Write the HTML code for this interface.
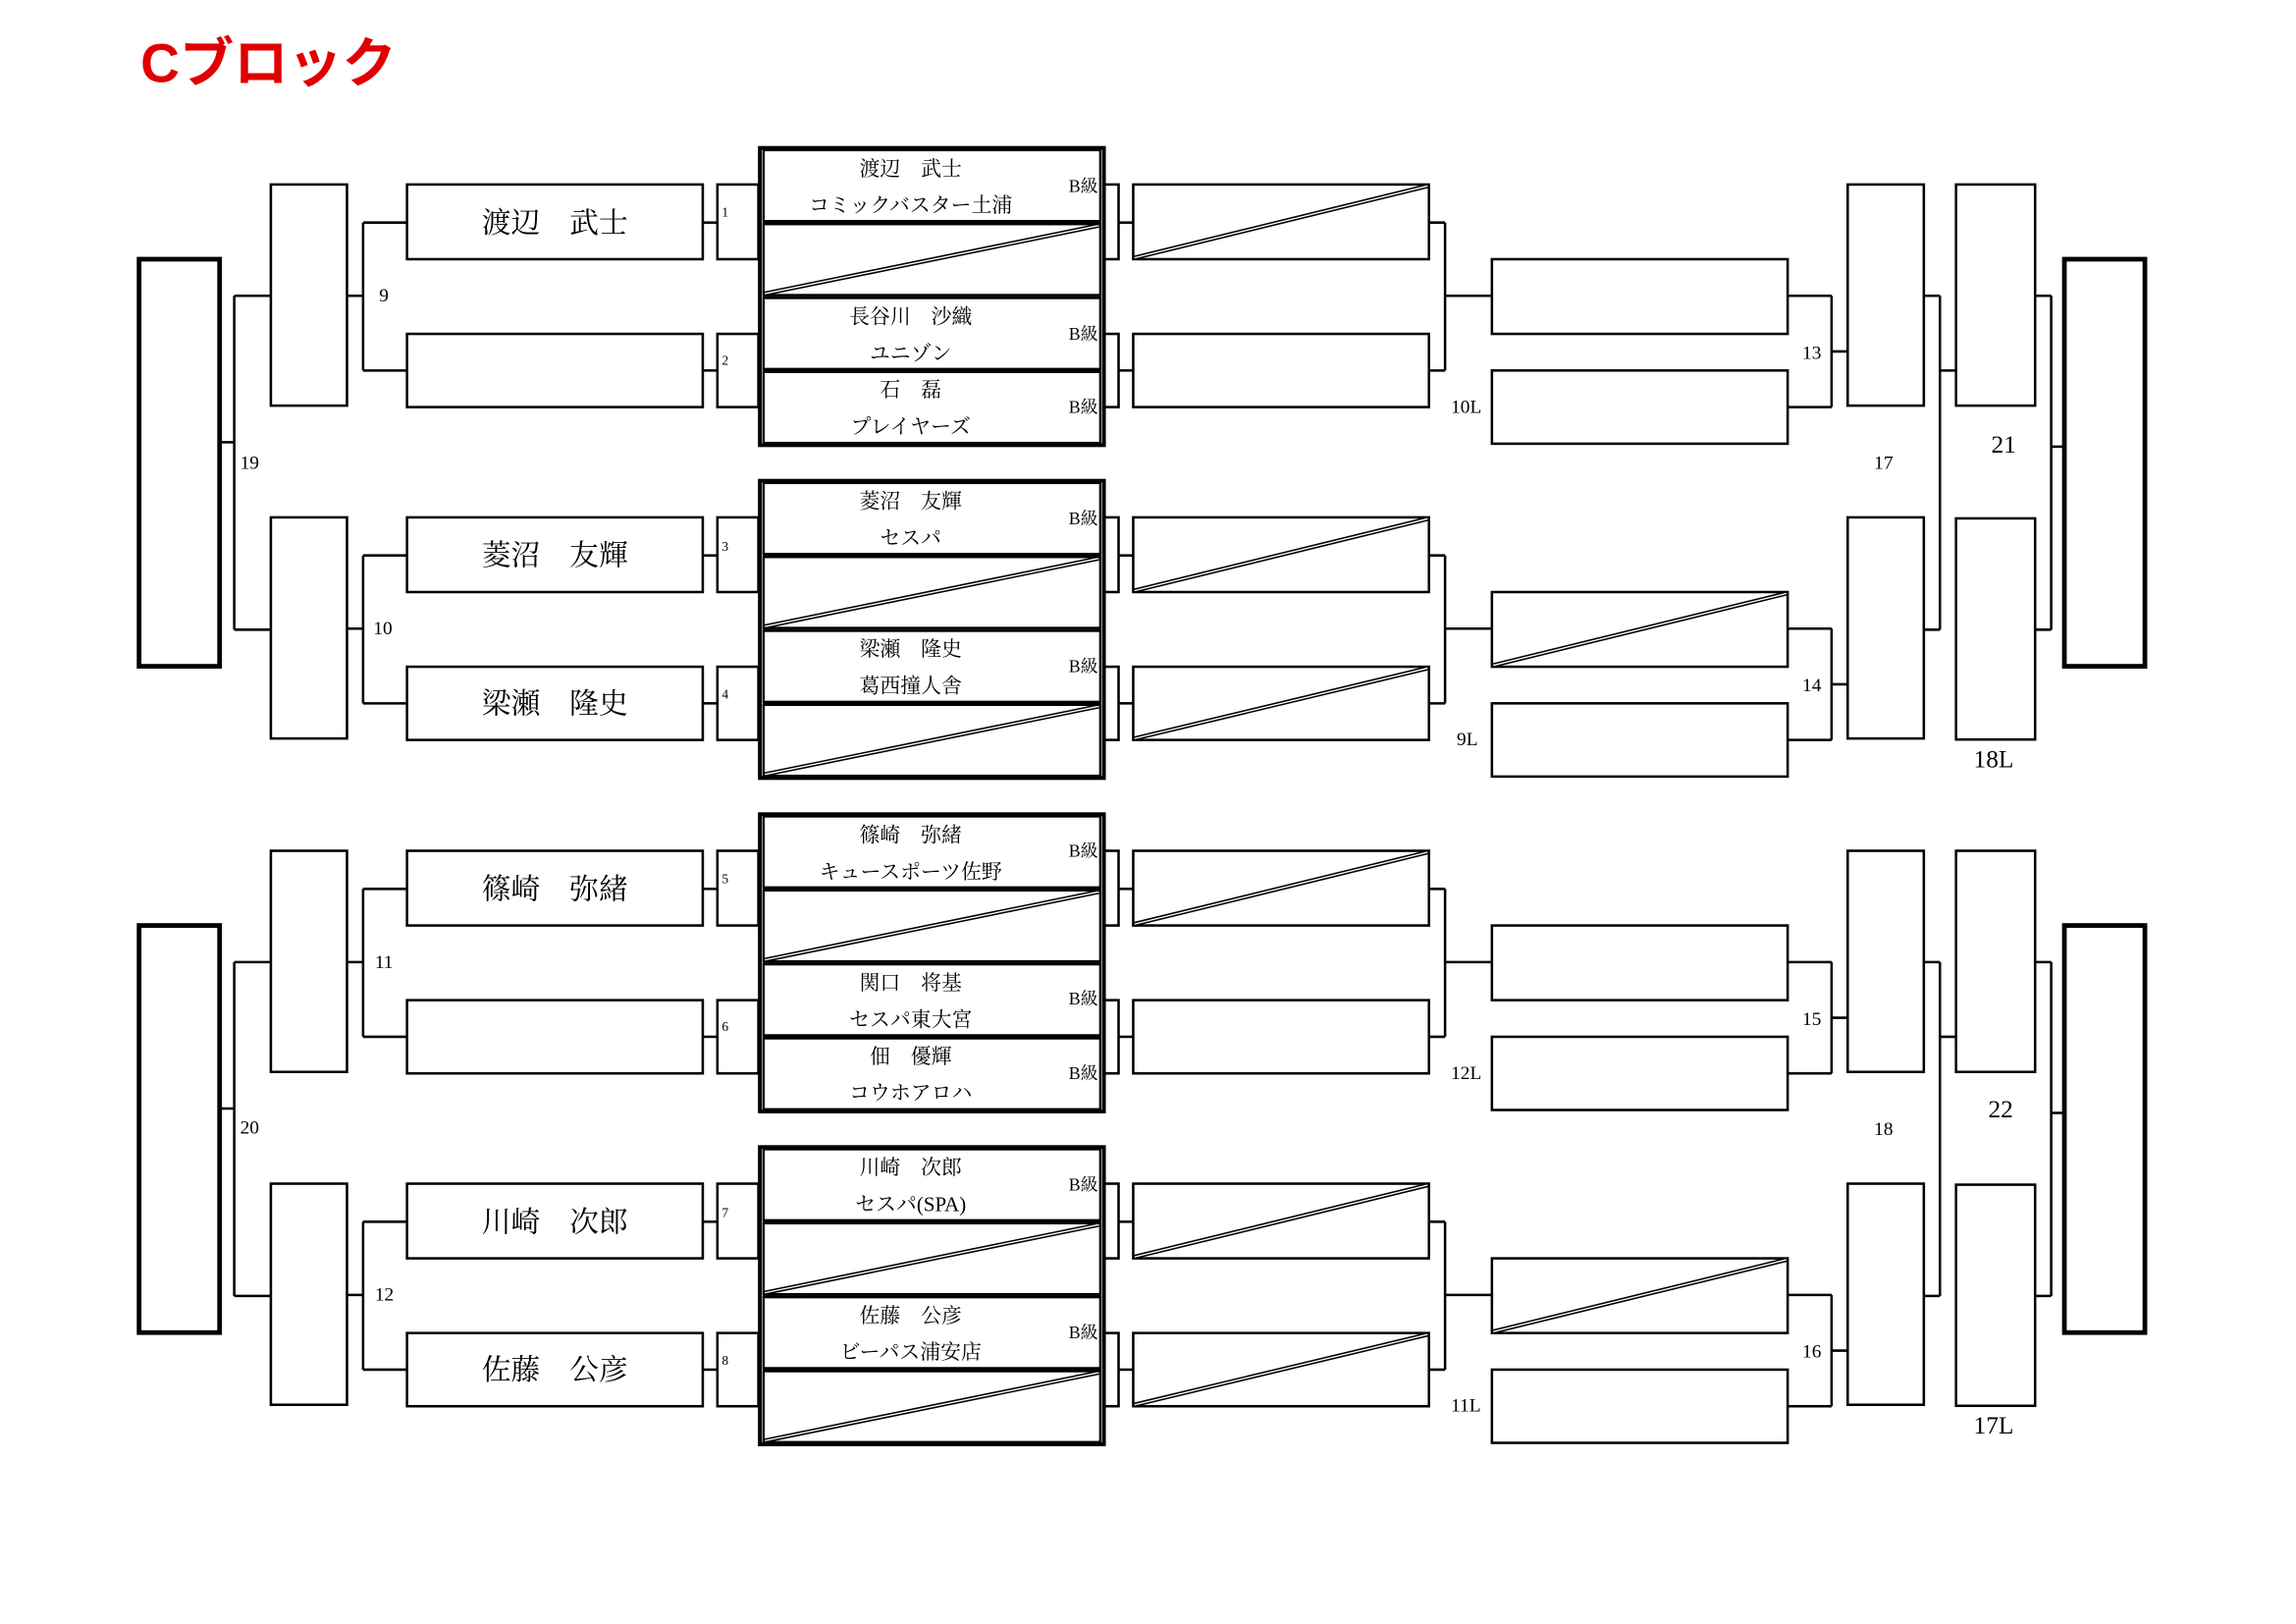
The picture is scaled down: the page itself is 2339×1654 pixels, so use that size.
<!DOCTYPE html>
<html><head><meta charset="utf-8"><style>
html,body{margin:0;padding:0;background:#fff;width:2339px;height:1654px;overflow:hidden}
svg{display:block}
text{font-family:"Liberation Serif","Noto Serif CJK SC",serif;fill:#000}
.t{font-family:"Liberation Sans","Noto Sans CJK JP",sans-serif;font-weight:bold;fill:#e00000}
</style></head><body>
<svg id="s" width="2339" height="1654" viewBox="0 0 1568.2 1109" preserveAspectRatio="none" xmlns="http://www.w3.org/2000/svg">
<g id="g" fill="none" stroke="#000"></g>
<text class="t" x="96" y="56" font-size="37">Cブロック</text>
<g font-size="20" text-anchor="middle">
<text x="379" y="159">渡辺　武士</text>
<text x="379" y="386">菱沼　友輝</text>
<text x="379" y="487">梁瀬　隆史</text>
<text x="379" y="614">篠崎　弥緒</text>
<text x="379" y="841">川崎　次郎</text>
<text x="379" y="942">佐藤　公彦</text>
</g>
<g font-size="14" text-anchor="middle">
<text x="622" y="120">渡辺　武士</text><text x="622" y="145">コミックバスター土浦</text>
<text x="622" y="221">長谷川　沙織</text><text x="622" y="246">ユニゾン</text>
<text x="622" y="271">石　磊</text><text x="622" y="296">プレイヤーズ</text>
<text x="622" y="347">菱沼　友輝</text><text x="622" y="372">セスパ</text>
<text x="622" y="448">梁瀬　隆史</text><text x="622" y="473">葛西撞人舎</text>
<text x="622" y="575">篠崎　弥緒</text><text x="622" y="600">キュースポーツ佐野</text>
<text x="622" y="676">関口　将基</text><text x="622" y="701">セスパ東大宮</text>
<text x="622" y="726">佃　優輝</text><text x="622" y="751">コウホアロハ</text>
<text x="622" y="802">川崎　次郎</text><text x="622" y="827">セスパ(SPA)</text>
<text x="622" y="903">佐藤　公彦</text><text x="622" y="928">ビーパス浦安店</text>
</g>
<g font-size="12" text-anchor="end">
<text x="750" y="131">B級</text><text x="750" y="232">B級</text><text x="750" y="282">B級</text>
<text x="750" y="358">B級</text><text x="750" y="459">B級</text>
<text x="750" y="585">B級</text><text x="750" y="686">B級</text><text x="750" y="737">B級</text>
<text x="750" y="813">B級</text><text x="750" y="914">B級</text>
</g>
<g font-size="9">
<text x="493" y="148">1</text><text x="493" y="249">2</text><text x="493" y="376">3</text><text x="493" y="477">4</text>
<text x="493" y="603">5</text><text x="493" y="704">6</text><text x="493" y="831">7</text><text x="493" y="932">8</text>
</g>
<g font-size="13">
<text x="259" y="206">9</text><text x="164" y="320">19</text><text x="255" y="433">10</text>
<text x="256" y="661">11</text><text x="164" y="774">20</text><text x="256" y="888">12</text>
<text x="991" y="282">10L</text><text x="995" y="509">9L</text><text x="991" y="737">12L</text><text x="991" y="964">11L</text>
<text x="1231" y="245">13</text><text x="1231" y="472">14</text><text x="1231" y="700">15</text><text x="1231" y="927">16</text>
<text x="1280" y="320">17</text><text x="1280" y="775">18</text>
</g>
<g font-size="17">
<text x="1360" y="309">21</text><text x="1348" y="524">18L</text>
<text x="1358" y="763">22</text><text x="1348" y="979">17L</text>
</g>
</svg>
<script>
var g=document.getElementById('g'),NS='http://www.w3.org/2000/svg';
function el(t,a){var e=document.createElementNS(NS,t);for(var k in a)e.setAttribute(k,a[k]);g.appendChild(e);return e;}
function R(x,y,w,h,sw){el('rect',{x:x,y:y,width:w,height:h,'stroke-width':sw||1.7});}
function L(x1,y1,x2,y2,sw){el('line',{x1:x1,y1:y1,x2:x2,y2:y2,'stroke-width':sw||1.7});}
function D(x,y,w,h){L(x+1,y+h-1,x+w-1,y+1,3);el('line',{x1:x+1,y1:y+h-1,x2:x+w-1,y2:y+1,'stroke-width':0.9,stroke:'#fff'});}
var Q=[[0,[0,1,0,0],[1,0],0],[227.3,[0,1,0,1],[1,1],1],[455,[0,1,0,0],[1,0],0],[682.3,[0,1,0,1],[1,1],1]];
Q.forEach(function(q){var d=q[0];
 R(278,126+d,202,51);R(278,228+d,202,50);
 L(480,152+d,490,152+d);L(480,253+d,490,253+d);
 R(490,126+d,28,51);R(490,228+d,28,50);
 L(237,202+d,248,202+d);L(248,152+d,248,253+d);L(248,152+d,278,152+d);L(248,253+d,278,253+d);
 R(185,126+d,52,151);
 R(519,101+d,235,203,2.6);
 var rows=[102.5,153,203.5,254];
 rows.forEach(function(r,i){R(521.5,r+d,230,48.5,1.6);if(q[1][i])D(521.5,r+d,230,48.5);});
 L(521,152.5+d,752,152.5+d,2.6);L(521,203+d,752,203+d,1.6);L(521,253.5+d,752,253.5+d,2.6);
 R(754,126+d,10,51);R(754,228+d,10,50);L(764,152+d,774,152+d);L(764,253+d,774,253+d);
 R(774,126+d,202,51);if(q[2][0])D(774,126+d,202,51);
 R(774,228+d,202,50);if(q[2][1])D(774,228+d,202,50);
 L(976,152+d,987,152+d);L(976,253+d,987,253+d);L(987,152+d,987,253+d);L(987,202+d,1019,202+d);
 R(1019,177+d,202,51);if(q[3])D(1019,177+d,202,51);R(1019,253+d,202,50);
 L(1221,202+d,1251,202+d);L(1221,278+d,1251,278+d);L(1251,202+d,1251,278+d);L(1251,240+d,1262,240+d);
 R(1262,126+d,52,151);
});
[0,455].forEach(function(d){
 R(95,177+d,55,278,3.2);L(150,302+d,160,302+d);L(160,202+d,160,430+d);L(160,202+d,185,202+d);L(160,430+d,185,430+d);
 L(1314,202+d,1325,202+d);L(1314,430+d,1325,430+d);L(1325,202+d,1325,430+d);L(1325,253+d,1336,253+d);
 R(1336,126+d,54,151);R(1336,354+d,54,151);
 L(1390,202+d,1401,202+d);L(1390,430+d,1401,430+d);L(1401,202+d,1401,430+d);L(1401,305+d,1410,305+d);
 R(1410,177+d,55,278,3.2);
});
</script>
</body></html>
